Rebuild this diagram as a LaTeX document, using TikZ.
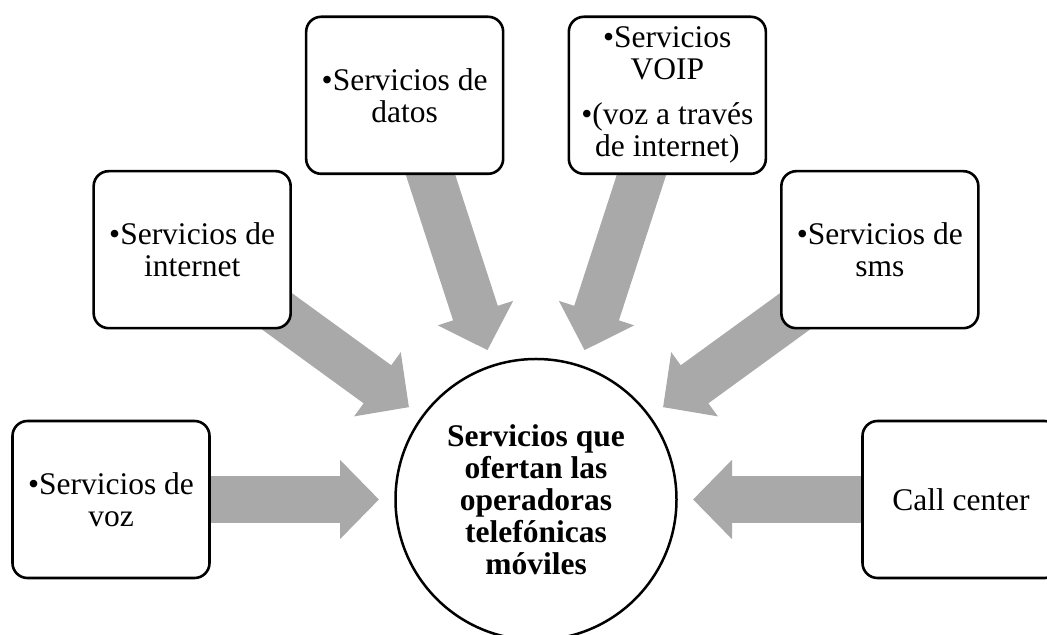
\documentclass[tikz,border=0pt]{standalone}
\usepackage{fontspec}
\setmainfont{Liberation Serif}
\usepackage{tikz}
\usetikzlibrary{arrows.meta,backgrounds}
\definecolor{flechagris}{RGB}{169,169,169}

\begin{document}
\begin{tikzpicture}
	 [x=0.5pt,y=0.5pt,every node/.style={draw,fill=white,line width=1.3pt,align=center,font=\fontsize{15.75}{16}\selectfont},
	  servbox/.style={rounded corners=7.5pt,minimum width=98.5pt,minimum height=78.5pt,inner sep=2pt},
	  flecha/.style={draw=flechagris,line width=23.5pt,-{Triangle[length=19.5pt,width=38.5pt]},shorten >=8.25pt}]
	\useasboundingbox (-536,-135.5) rectangle (511,499.5);

	\node (hub)[circle,minimum size=140.5pt,inner sep=0pt,outer sep=0pt,line width=1.25pt,font=\bfseries\fontsize{15.75}{16}\selectfont] at (0,0) {Servicios que\\ofertan las\\operadoras\\telefónicas\\móviles};

	  \node (voz)[servbox] at (180:425) {•Servicios de\\voz};
	  \node (internet)[servbox] at (144:425) {•Servicios de\\internet};
	  \node (datos)[servbox] at (108:425) {•Servicios de\\datos};
	  \node (voip)[servbox] at (72:425) {•Servicios\\VOIP\\[6.5pt]•(voz a través\\de internet)};
	  \node (sms)[servbox] at (36:425) {•Servicios de\\sms};
	  \node (call)[servbox] at (0:425) {Call center};

	\begin{scope}[on background layer]
	\foreach \from in {voz,internet,datos,voip,sms,call}
    \draw[flecha] (\from.center) -- (hub);
	\end{scope}

\end{tikzpicture}
\end{document}
